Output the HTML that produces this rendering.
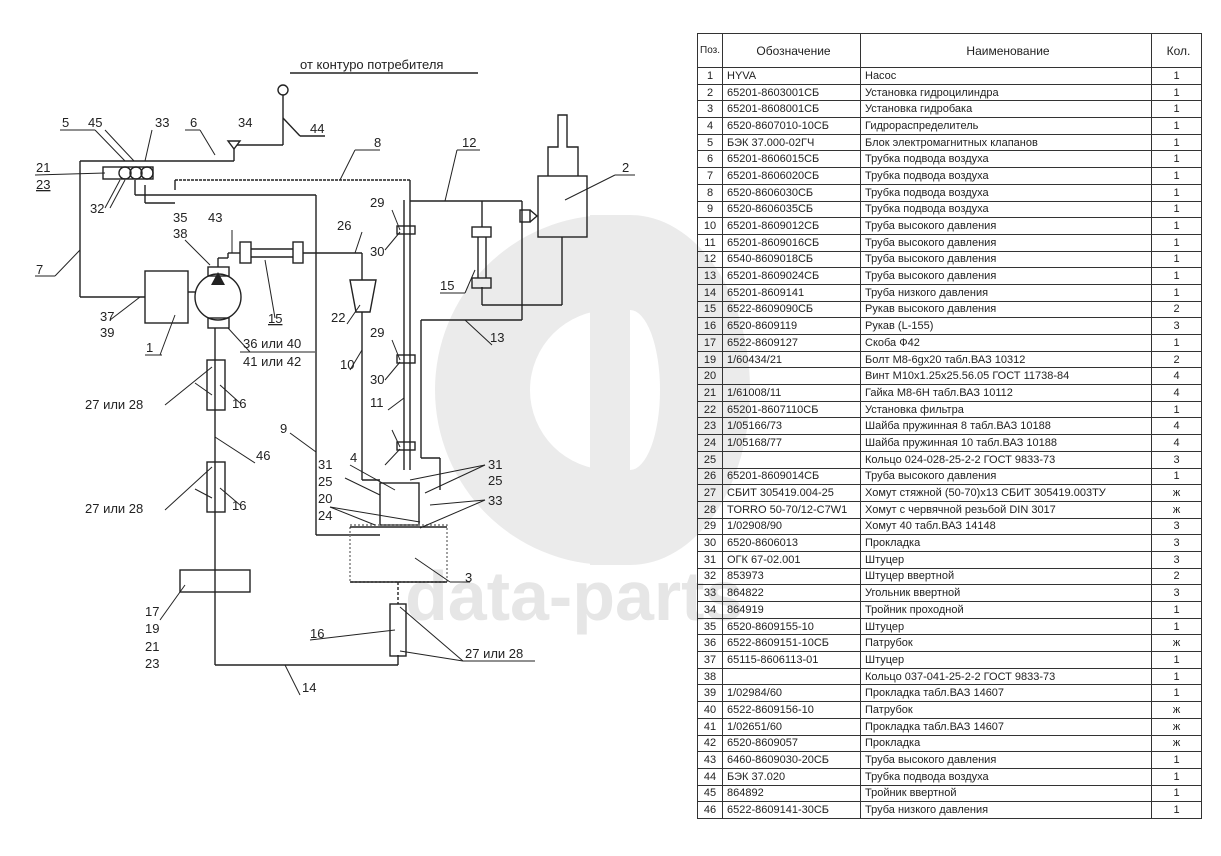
<!DOCTYPE html>
<html><head><meta charset="utf-8"><style>
body{margin:0;background:#fff;width:1221px;height:856px;overflow:hidden;position:relative;font-family:"Liberation Sans","DejaVu Sans",sans-serif;}
svg{position:absolute;left:0;top:0}
table{position:absolute;left:697px;top:33px;border-collapse:collapse;font-size:11px;color:#222;}
td{border:1.3px solid #333;height:15.7px;padding:0 0 0 4px;line-height:14px;white-space:nowrap;overflow:hidden}
td.n{text-align:center;padding:0}
td.k{text-align:center;padding:0}
tr.h td{height:33px;font-size:12px;text-align:center}
</style></head><body>
<svg width="1221" height="856">
<g fill="#ebebeb">
<path d="M610 215 A175 175 0 1 0 610 565 L610 470 A80 80 0 1 1 610 310 Z"/>
<rect x="590" y="215" width="40" height="350"/>
<path d="M630 215 A120 175 0 0 1 630 565 L630 470 A30 80 0 0 0 630 310 Z"/>
</g>
<text x="405" y="620" font-size="70" font-weight="bold" fill="#e6e6e6" font-family="Liberation Sans,sans-serif">data-parts</text>
<g stroke="#222" stroke-width="1.4" fill="none">
<!-- top air -->
<line x1="290" y1="73" x2="478" y2="73"/>
<circle cx="283" cy="90" r="5"/>
<line x1="283" y1="95" x2="283" y2="145"/><line x1="283" y1="145" x2="237" y2="145"/>
<line x1="283" y1="118" x2="300" y2="136"/><line x1="300" y1="136" x2="325" y2="136"/>
<path d="M228 141 L240 141 L234 149 Z"/>
<line x1="234" y1="149" x2="234" y2="161"/>
<line x1="80" y1="161" x2="234" y2="161"/>
<line x1="80" y1="161" x2="80" y2="297"/><line x1="80" y1="297" x2="145" y2="297"/>
<circle cx="125" cy="173" r="6"/><circle cx="136" cy="173" r="6"/><circle cx="147" cy="173" r="6"/>
<rect x="103" y="167" width="50" height="12"/>
<!-- line 8 -->
<line x1="175" y1="180" x2="410" y2="180" stroke-dasharray="3 1"/>
<line x1="175" y1="180" x2="175" y2="190"/>
<line x1="410" y1="180" x2="410" y2="470"/>
<line x1="135" y1="180" x2="135" y2="195"/><line x1="135" y1="195" x2="316" y2="195"/>
<line x1="316" y1="195" x2="316" y2="535"/><line x1="316" y1="535" x2="380" y2="535"/>
<line x1="145" y1="185" x2="145" y2="203"/><line x1="145" y1="203" x2="175" y2="203"/>
<!-- pump -->
<rect x="145" y="271" width="43" height="52"/>
<line x1="188" y1="292" x2="196" y2="292"/>
<circle cx="218" cy="297" r="23"/>
<rect x="208" y="267" width="21" height="9"/><rect x="208" y="318" width="21" height="10"/>
<line x1="218" y1="258" x2="218" y2="267"/><line x1="218" y1="258" x2="228" y2="258"/>
<line x1="228" y1="258" x2="228" y2="253"/><line x1="228" y1="253" x2="240" y2="253"/>
<rect x="240" y="242" width="11" height="21"/><rect x="293" y="242" width="10" height="21"/>
<line x1="251" y1="249" x2="293" y2="249"/><line x1="251" y1="257" x2="293" y2="257"/>
<line x1="303" y1="253" x2="362" y2="253"/><line x1="362" y1="253" x2="362" y2="280"/>
<path d="M350 280 L376 280 L370 312 L356 312 Z"/>
<line x1="362" y1="312" x2="362" y2="480"/><line x1="362" y1="480" x2="380" y2="480"/>
<!-- line 11 -->
<line x1="404" y1="200" x2="404" y2="470"/>
<rect x="397" y="226" width="18" height="8"/><rect x="397" y="355" width="18" height="8"/><rect x="397" y="442" width="18" height="8"/>
<line x1="410" y1="201" x2="522" y2="201"/><line x1="522" y1="201" x2="522" y2="320"/>
<line x1="522" y1="320" x2="421" y2="320"/><line x1="421" y1="320" x2="421" y2="458"/>
<line x1="421" y1="458" x2="440" y2="458"/><line x1="440" y1="458" x2="440" y2="490"/>
<!-- cylinder -->
<rect x="538" y="176" width="49" height="61"/>
<path d="M548 176 L548 147 L558 147 L558 115 L567 115 L567 147 L578 147 L578 176"/>
<rect x="520" y="210" width="10" height="12"/><path d="M530 210 L537 216 L530 222"/>
<line x1="562" y1="237" x2="562" y2="305"/><line x1="562" y1="305" x2="482" y2="305"/>
<line x1="482" y1="201" x2="482" y2="227"/><line x1="482" y1="287" x2="482" y2="305"/>
<rect x="472" y="227" width="19" height="10"/><rect x="472" y="278" width="19" height="10"/>
<line x1="478" y1="237" x2="478" y2="278"/><line x1="486" y1="237" x2="486" y2="278"/>
<!-- valve -->
<rect x="380" y="483" width="39" height="42"/>
<rect x="350" y="525" width="97" height="57" stroke-dasharray="2 2" stroke="#777"/>
<line x1="350" y1="582" x2="447" y2="582"/>
<line x1="350" y1="527" x2="447" y2="527"/>
<!-- left column -->
<line x1="215" y1="328" x2="215" y2="665"/>
<rect x="207" y="360" width="18" height="50"/><rect x="207" y="462" width="18" height="50"/>
<rect x="180" y="570" width="70" height="22"/>
<line x1="215" y1="665" x2="398" y2="665"/><line x1="398" y1="665" x2="398" y2="655"/>
<rect x="390" y="604" width="16" height="52"/>
<line x1="398" y1="582" x2="398" y2="604" stroke-dasharray="3 2"/>
</g>
<path d="M211 285 L225 285 L218 272 Z" fill="#222"/>
<g stroke="#222" stroke-width="1" fill="none">
<line x1="125" y1="161" x2="95" y2="130"/><line x1="60" y1="130" x2="95" y2="130"/>
<line x1="134" y1="161" x2="105" y2="130"/><line x1="145" y1="161" x2="152" y2="130"/>
<line x1="215" y1="155" x2="200" y2="130"/><line x1="185" y1="130" x2="200" y2="130"/>
<line x1="105" y1="173" x2="35" y2="175"/>
<line x1="120" y1="180" x2="105" y2="208"/><line x1="125" y1="180" x2="110" y2="208"/>
<line x1="340" y1="180" x2="355" y2="150"/><line x1="355" y1="150" x2="380" y2="150"/>
<line x1="445" y1="201" x2="457" y2="150"/><line x1="457" y1="150" x2="480" y2="150"/>
<line x1="565" y1="200" x2="615" y2="175"/><line x1="615" y1="175" x2="635" y2="175"/>
<line x1="80" y1="250" x2="55" y2="276"/><line x1="35" y1="276" x2="55" y2="276"/>
<line x1="140" y1="297" x2="110" y2="320"/>
<line x1="175" y1="315" x2="160" y2="355"/><line x1="145" y1="355" x2="162" y2="355"/>
<line x1="210" y1="265" x2="185" y2="240"/>
<line x1="232" y1="253" x2="232" y2="230"/>
<line x1="265" y1="260" x2="275" y2="318"/>
<line x1="355" y1="253" x2="362" y2="232"/>
<line x1="360" y1="305" x2="347" y2="324"/>
<line x1="362" y1="350" x2="350" y2="370"/>
<line x1="400" y1="230" x2="392" y2="210"/><line x1="400" y1="232" x2="385" y2="250"/>
<line x1="400" y1="360" x2="392" y2="340"/><line x1="400" y1="362" x2="385" y2="380"/>
<line x1="404" y1="398" x2="388" y2="410"/>
<line x1="400" y1="447" x2="392" y2="430"/><line x1="400" y1="449" x2="385" y2="465"/>
<line x1="475" y1="270" x2="465" y2="293"/><line x1="440" y1="293" x2="465" y2="293"/>
<line x1="465" y1="320" x2="492" y2="345"/>
<line x1="228" y1="328" x2="250" y2="352"/><line x1="240" y1="352" x2="315" y2="352"/>
<line x1="212" y1="367" x2="165" y2="405"/><line x1="195" y1="383" x2="212" y2="395"/>
<line x1="220" y1="385" x2="240" y2="403"/>
<line x1="215" y1="437" x2="255" y2="463"/>
<line x1="212" y1="467" x2="165" y2="510"/><line x1="195" y1="489" x2="212" y2="498"/>
<line x1="220" y1="488" x2="240" y2="505"/>
<line x1="185" y1="585" x2="160" y2="620"/>
<line x1="316" y1="452" x2="290" y2="433"/>
<line x1="395" y1="490" x2="350" y2="465"/>
<line x1="380" y1="495" x2="345" y2="478"/>
<line x1="425" y1="493" x2="485" y2="465"/><line x1="410" y1="480" x2="485" y2="465"/>
<line x1="430" y1="505" x2="485" y2="500"/><line x1="420" y1="528" x2="485" y2="500"/>
<line x1="375" y1="525" x2="330" y2="507"/><line x1="420" y1="522" x2="330" y2="507"/>
<line x1="415" y1="558" x2="450" y2="582"/><line x1="450" y1="582" x2="470" y2="582"/>
<line x1="395" y1="630" x2="310" y2="640"/>
<line x1="400" y1="607" x2="463" y2="661"/><line x1="400" y1="651" x2="463" y2="661"/><line x1="463" y1="661" x2="535" y2="661"/>
<line x1="285" y1="665" x2="300" y2="695"/>
</g>
<g font-size="13" fill="#222" font-family="Liberation Sans,sans-serif">
<text x="300" y="69">от контуро потребителя</text>
<text x="310" y="133">44</text>
<text x="62" y="127">5</text><text x="88" y="127">45</text><text x="155" y="127">33</text>
<text x="190" y="127">6</text><text x="238" y="127">34</text>
<text x="374" y="147">8</text><text x="462" y="147">12</text><text x="622" y="172">2</text>
<text x="36" y="172">21</text><text x="36" y="189" text-decoration="underline">23</text>
<text x="90" y="213">32</text>
<text x="173" y="222">35</text><text x="173" y="238">38</text><text x="208" y="222">43</text>
<text x="337" y="230">26</text>
<text x="370" y="207">29</text><text x="370" y="256">30</text>
<text x="36" y="274">7</text>
<text x="268" y="323" text-decoration="underline">15</text>
<text x="331" y="322">22</text>
<text x="100" y="321">37</text><text x="100" y="337">39</text>
<text x="146" y="352">1</text>
<text x="243" y="348">36 или 40</text><text x="243" y="366">41 или 42</text>
<text x="340" y="369">10</text>
<text x="370" y="337">29</text><text x="370" y="384">30</text>
<text x="370" y="407">11</text>
<text x="440" y="290">15</text><text x="490" y="342">13</text>
<text x="85" y="409">27 или 28</text><text x="232" y="408">16</text>
<text x="256" y="460">46</text><text x="280" y="433">9</text>
<text x="350" y="462">4</text>
<text x="318" y="469">31</text><text x="318" y="486">25</text>
<text x="488" y="469">31</text><text x="488" y="485">25</text>
<text x="318" y="503">20</text><text x="318" y="520">24</text>
<text x="488" y="505">33</text>
<text x="85" y="513">27 или 28</text><text x="232" y="510">16</text>
<text x="465" y="582">3</text>
<text x="145" y="616">17</text><text x="145" y="633">19</text><text x="145" y="651">21</text><text x="145" y="668">23</text>
<text x="310" y="638">16</text>
<text x="465" y="658">27 или 28</text>
<text x="302" y="692">14</text>
</g>
</svg>
<table>
<colgroup><col style="width:25px"><col style="width:138px"><col style="width:291px"><col style="width:50px"></colgroup>
<tr class="h"><td class="n" style="font-size:10px">Поз.</td><td>Обозначение</td><td>Наименование</td><td>Кол.</td></tr>
<tr><td class="n">1</td><td>HYVA</td><td>Насос</td><td class="k">1</td></tr>
<tr><td class="n">2</td><td>65201-8603001СБ</td><td>Установка гидроцилиндра</td><td class="k">1</td></tr>
<tr><td class="n">3</td><td>65201-8608001СБ</td><td>Установка гидробака</td><td class="k">1</td></tr>
<tr><td class="n">4</td><td>6520-8607010-10СБ</td><td>Гидрораспределитель</td><td class="k">1</td></tr>
<tr><td class="n">5</td><td>БЭК 37.000-02ГЧ</td><td>Блок электромагнитных клапанов</td><td class="k">1</td></tr>
<tr><td class="n">6</td><td>65201-8606015СБ</td><td>Трубка подвода воздуха</td><td class="k">1</td></tr>
<tr><td class="n">7</td><td>65201-8606020СБ</td><td>Трубка подвода воздуха</td><td class="k">1</td></tr>
<tr><td class="n">8</td><td>6520-8606030СБ</td><td>Трубка подвода воздуха</td><td class="k">1</td></tr>
<tr><td class="n">9</td><td>6520-8606035СБ</td><td>Трубка подвода воздуха</td><td class="k">1</td></tr>
<tr><td class="n">10</td><td>65201-8609012СБ</td><td>Труба высокого давления</td><td class="k">1</td></tr>
<tr><td class="n">11</td><td>65201-8609016СБ</td><td>Труба высокого давления</td><td class="k">1</td></tr>
<tr><td class="n">12</td><td>6540-8609018СБ</td><td>Труба высокого давления</td><td class="k">1</td></tr>
<tr><td class="n">13</td><td>65201-8609024СБ</td><td>Труба высокого давления</td><td class="k">1</td></tr>
<tr><td class="n">14</td><td>65201-8609141</td><td>Труба низкого давления</td><td class="k">1</td></tr>
<tr><td class="n">15</td><td>6522-8609090СБ</td><td>Рукав высокого давления</td><td class="k">2</td></tr>
<tr><td class="n">16</td><td>6520-8609119</td><td>Рукав (L-155)</td><td class="k">3</td></tr>
<tr><td class="n">17</td><td>6522-8609127</td><td>Скоба Ф42</td><td class="k">1</td></tr>
<tr><td class="n">19</td><td>1/60434/21</td><td>Болт М8-6gx20 табл.ВАЗ 10312</td><td class="k">2</td></tr>
<tr><td class="n">20</td><td></td><td>Винт М10x1.25x25.56.05 ГОСТ 11738-84</td><td class="k">4</td></tr>
<tr><td class="n">21</td><td>1/61008/11</td><td>Гайка М8-6Н табл.ВАЗ 10112</td><td class="k">4</td></tr>
<tr><td class="n">22</td><td>65201-8607110СБ</td><td>Установка фильтра</td><td class="k">1</td></tr>
<tr><td class="n">23</td><td>1/05166/73</td><td>Шайба пружинная 8 табл.ВАЗ 10188</td><td class="k">4</td></tr>
<tr><td class="n">24</td><td>1/05168/77</td><td>Шайба пружинная 10 табл.ВАЗ 10188</td><td class="k">4</td></tr>
<tr><td class="n">25</td><td></td><td>Кольцо 024-028-25-2-2 ГОСТ 9833-73</td><td class="k">3</td></tr>
<tr><td class="n">26</td><td>65201-8609014СБ</td><td>Труба высокого давления</td><td class="k">1</td></tr>
<tr><td class="n">27</td><td>СБИТ 305419.004-25</td><td>Хомут стяжной (50-70)x13 СБИТ 305419.003ТУ</td><td class="k">ж</td></tr>
<tr><td class="n">28</td><td>TORRO 50-70/12-C7W1</td><td>Хомут с червячной резьбой DIN 3017</td><td class="k">ж</td></tr>
<tr><td class="n">29</td><td>1/02908/90</td><td>Хомут 40 табл.ВАЗ 14148</td><td class="k">3</td></tr>
<tr><td class="n">30</td><td>6520-8606013</td><td>Прокладка</td><td class="k">3</td></tr>
<tr><td class="n">31</td><td>ОГК 67-02.001</td><td>Штуцер</td><td class="k">3</td></tr>
<tr><td class="n">32</td><td>853973</td><td>Штуцер ввертной</td><td class="k">2</td></tr>
<tr><td class="n">33</td><td>864822</td><td>Угольник ввертной</td><td class="k">3</td></tr>
<tr><td class="n">34</td><td>864919</td><td>Тройник проходной</td><td class="k">1</td></tr>
<tr><td class="n">35</td><td>6520-8609155-10</td><td>Штуцер</td><td class="k">1</td></tr>
<tr><td class="n">36</td><td>6522-8609151-10СБ</td><td>Патрубок</td><td class="k">ж</td></tr>
<tr><td class="n">37</td><td>65115-8606113-01</td><td>Штуцер</td><td class="k">1</td></tr>
<tr><td class="n">38</td><td></td><td>Кольцо 037-041-25-2-2 ГОСТ 9833-73</td><td class="k">1</td></tr>
<tr><td class="n">39</td><td>1/02984/60</td><td>Прокладка табл.ВАЗ 14607</td><td class="k">1</td></tr>
<tr><td class="n">40</td><td>6522-8609156-10</td><td>Патрубок</td><td class="k">ж</td></tr>
<tr><td class="n">41</td><td>1/02651/60</td><td>Прокладка табл.ВАЗ 14607</td><td class="k">ж</td></tr>
<tr><td class="n">42</td><td>6520-8609057</td><td>Прокладка</td><td class="k">ж</td></tr>
<tr><td class="n">43</td><td>6460-8609030-20СБ</td><td>Труба высокого давления</td><td class="k">1</td></tr>
<tr><td class="n">44</td><td>БЭК 37.020</td><td>Трубка подвода воздуха</td><td class="k">1</td></tr>
<tr><td class="n">45</td><td>864892</td><td>Тройник ввертной</td><td class="k">1</td></tr>
<tr><td class="n">46</td><td>6522-8609141-30СБ</td><td>Труба низкого давления</td><td class="k">1</td></tr>
</table>
</body></html>
